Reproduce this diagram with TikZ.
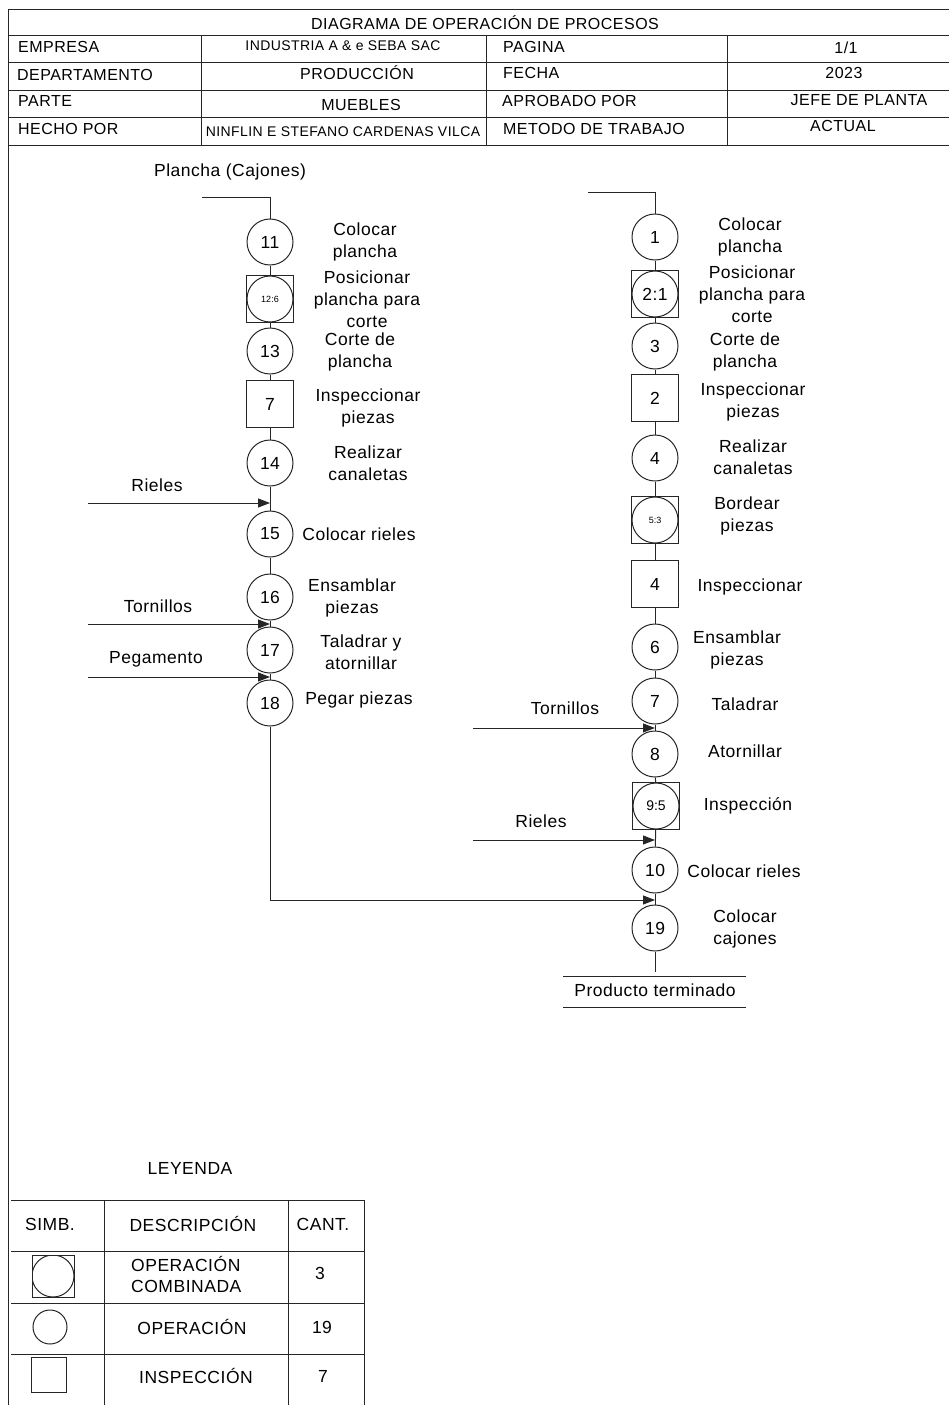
\documentclass[tikz,border=0pt]{standalone}
\usepackage{fontspec}
\setmainfont{Liberation Sans}
\newfontfamily\spaced[LetterSpace=3]{Liberation Sans}
\usetikzlibrary{arrows.meta}
\newcommand{\lblf}{\spaced\fontsize{17.5}{22}\selectfont}
\newcommand{\hdf}{\spaced\fontsize{16}{18}\selectfont}
\newcommand{\smf}{\spaced\fontsize{14}{16}\selectfont}
\begin{document}
\begin{tikzpicture}[x=1pt,y=-1pt,
  ln/.style={line width=1pt, draw=black!85},
  op/.style={circle, draw=black!85, line width=1pt, minimum size=46pt, inner sep=0pt, font=\lblf},
  insp/.style={rectangle, draw=black!85, line width=1pt, minimum size=47pt, inner sep=0pt, font=\lblf},
  comb/.style={rectangle, draw=black!85, line width=1pt, minimum size=47pt, inner sep=0pt, font=\lblf,
     path picture={\draw[line width=1pt, black!85] (path picture bounding box.center) circle (23pt);}},
  lbl/.style={align=center, font=\lblf, inner sep=0pt},
  hd/.style={font=\hdf, inner sep=0pt},
  arr/.style={ln, -{Triangle[length=12pt,width=9pt]}},
]
\useasboundingbox (0,0) rectangle (949,1405);
% ---------- header ----------
\draw[ln] (8,10) -- (949,10);
\foreach \yy in {36,63,90,117,145} \draw[ln] (8,\yy) -- (949,\yy);
\draw[ln] (8,10) -- (8,1405);
\foreach \xx in {201,486,727} \draw[ln] (\xx,36) -- (\xx,145);
\node[hd] (title) at (485,23) {DIAGRAMA DE OPERACIÓN DE PROCESOS};
\node[hd, anchor=west] (e1) at (18,47) {EMPRESA};
\node[hd, font=\smf] (e2) at (343,46) {INDUSTRIA A \& e SEBA SAC};
\node[hd, anchor=west] (e3) at (503,47) {PAGINA};
\node[hd] (e4) at (846,48) {1/1};
\node[hd, anchor=west] (d1) at (17,75) {DEPARTAMENTO};
\node[hd] (d2) at (357,73) {PRODUCCIÓN};
\node[hd, anchor=west] (d3) at (503,73) {FECHA};
\node[hd] (d4) at (844,73) {2023};
\node[hd, anchor=west] (p1) at (18,101) {PARTE};
\node[hd] (p2) at (361,105) {MUEBLES};
\node[hd, anchor=west] (p3) at (502,101) {APROBADO POR};
\node[hd] (p4) at (859,100) {JEFE DE PLANTA};
\node[hd, anchor=west] (h1) at (18,129) {HECHO POR};
\node[hd, font=\smf] (h2) at (343,132) {NINFLIN E STEFANO CARDENAS VILCA};
\node[hd, anchor=west] (h3) at (503,129) {METODO DE TRABAJO};
\node[hd] (h4) at (843,126) {ACTUAL};
% ---------- left column ----------
\node[lbl] (plc) at (230,172) {Plancha (Cajones)};
\coordinate (ls) at (202,197);
\node[op] (l11) at (270,242) {11};
\node[comb, font=\fontsize{9}{10}\selectfont] (l12) at (270,299) {12:6};
\node[op] (l13) at (270,351) {13};
\node[insp] (l7) at (270,404) {7};
\node[op] (l14) at (270,463) {14};
\node[op] (l15) at (270,534) {15};
\node[op] (l16) at (270,597) {16};
\node[op] (l17) at (270,650) {17};
\node[op] (l18) at (270,703) {18};
\node[lbl] (t11) at (365,242) {Colocar\\plancha};
\node[lbl] (t12) at (367,299) {Posicionar\\plancha para\\corte};
\node[lbl] (t13) at (360,352) {Corte de\\plancha};
\node[lbl] (t7) at (368,408) {Inspeccionar\\piezas};
\node[lbl] (t14) at (368,463) {Realizar\\canaletas};
\node[lbl] (t15) at (359,534) {Colocar rieles};
\node[lbl] (t16) at (352,598) {Ensamblar\\piezas};
\node[lbl] (t17) at (361,652) {Taladrar y\\atornillar};
\node[lbl] (t18) at (359,700) {Pegar piezas};
\draw[ln] (ls) -| (l11);
\draw[ln] (l11) -- (l12);
\draw[ln] (l12) -- (l13);
\draw[ln] (l13) -- (l7);
\draw[ln] (l7) -- (l14);
\draw[ln] (l14) -- (l15);
\draw[ln] (l15) -- (l16);
\draw[ln] (l16) -- (l17);
\draw[ln] (l17) -- (l18);
\coordinate (ra) at (88,503); \coordinate (rb) at (270,503);
\coordinate (ta) at (88,624); \coordinate (tb) at (270,624);
\coordinate (pa) at (88,677); \coordinate (pb) at (270,677);
\draw[arr] (ra) -- (rb);
\draw[arr] (ta) -- (tb);
\draw[arr] (pa) -- (pb);
\node[lbl] (rl) at (157,485) {Rieles};
\node[lbl] (tl) at (158,606) {Tornillos};
\node[lbl] (pl) at (156,659) {Pegamento};
% ---------- right column ----------
\coordinate (rs) at (588,192);
\node[op] (r1) at (655,237) {1};
\node[comb] (r2) at (655,294) {2:1};
\node[op] (r3) at (655,346) {3};
\node[insp] (r2i) at (655,398) {2};
\node[op] (r4) at (655,458) {4};
\node[comb, font=\fontsize{9}{10}\selectfont] (r5) at (655,520) {5:3};
\node[insp] (r4i) at (655,584) {4};
\node[op] (r6) at (655,647) {6};
\node[op] (r7) at (655,701) {7};
\node[op] (r8) at (655,754) {8};
\node[comb, font=\fontsize{14}{16}\selectfont] (r9) at (656,806) {9:5};
\node[op] (r10) at (655,870) {10};
\node[op] (r19) at (655,928) {19};
\node[lbl] (u1) at (750,237) {Colocar\\plancha};
\node[lbl] (u2) at (752,294) {Posicionar\\plancha para\\corte};
\node[lbl] (u3) at (745,352) {Corte de\\plancha};
\node[lbl] (u2i) at (753,402) {Inspeccionar\\piezas};
\node[lbl] (u4) at (753,457) {Realizar\\canaletas};
\node[lbl] (u5) at (747,516) {Bordear\\piezas};
\node[lbl] (u4i) at (750,587) {Inspeccionar};
\node[lbl] (u6) at (737,650) {Ensamblar\\piezas};
\node[lbl] (u7) at (745,704) {Taladrar};
\node[lbl] (u8) at (745,751) {Atornillar};
\node[lbl] (u9) at (748,806) {Inspección};
\node[lbl] (u10) at (744,871) {Colocar rieles};
\node[lbl] (u19) at (745,929) {Colocar\\cajones};
\draw[ln] (rs) -| (r1);
\draw[ln] (r1) -- (r2);
\draw[ln] (r2) -- (r3);
\draw[ln] (r3) -- (r2i);
\draw[ln] (r2i) -- (r4);
\draw[ln] (r4) -- (r5);
\draw[ln] (r5) -- (r4i);
\draw[ln] (r4i) -- (r6);
\draw[ln] (r6) -- (r7);
\draw[ln] (r7) -- (r8);
\draw[ln] (r8) -- (r9);
\draw[ln] (r9) -- (r10);
\draw[ln] (r10) -- (r19);
\coordinate (re) at (655,972);
\draw[ln] (r19) -- (re);
\coordinate (rta) at (473,728); \coordinate (rtb) at (655,728);
\coordinate (rra) at (473,840); \coordinate (rrb) at (655,840);
\coordinate (jn) at (655,900);
\draw[arr] (rta) -- (rtb);
\draw[arr] (rra) -- (rrb);
\draw[arr] (l18) |- (jn);
\node[lbl] (rtl) at (565,708) {Tornillos};
\node[lbl] (rrl) at (541,821) {Rieles};
\node[lbl] (prod) at (655,990) {Producto terminado};
\draw[ln] (563,976) -- (746,976);
\draw[ln] (563,1007) -- (746,1007);
% ---------- legend ----------
\node[lbl] (ley) at (190,1168) {LEYENDA};
\foreach \yy in {1200,1251,1303,1354} \draw[ln] (11,\yy) -- (364,\yy);
\foreach \xx in {104,288,364} \draw[ln] (\xx,1200) -- (\xx,1405);
\node[lbl] (c1) at (50,1224) {SIMB.};
\node[lbl] (c2) at (193,1224) {DESCRIPCIÓN};
\node[lbl] (c3) at (323,1224) {CANT.};
\node[rectangle, draw=black!85, line width=1pt, minimum size=42pt, inner sep=0pt,
  path picture={\draw[line width=1pt, black!85] (path picture bounding box.center) circle (21pt);}] (s1) at (53,1276) {};
\node[circle, draw=black!85, line width=1pt, minimum size=34pt, inner sep=0pt] (s2) at (50,1327) {};
\node[rectangle, draw=black!85, line width=1pt, minimum size=35pt, inner sep=0pt] (s3) at (49,1375) {};
\node[lbl, align=left, anchor=west, font=\spaced\fontsize{17.5}{21}\selectfont] (g1) at (131,1274) {OPERACIÓN\\COMBINADA};
\node[lbl] (n1) at (320,1273) {3};
\node[lbl] (g2) at (192,1327) {OPERACIÓN};
\node[lbl] (n2) at (322,1327) {19};
\node[lbl] (g3) at (196,1376) {INSPECCIÓN};
\node[lbl] (n3) at (323,1376) {7};
\end{tikzpicture}
\end{document}
